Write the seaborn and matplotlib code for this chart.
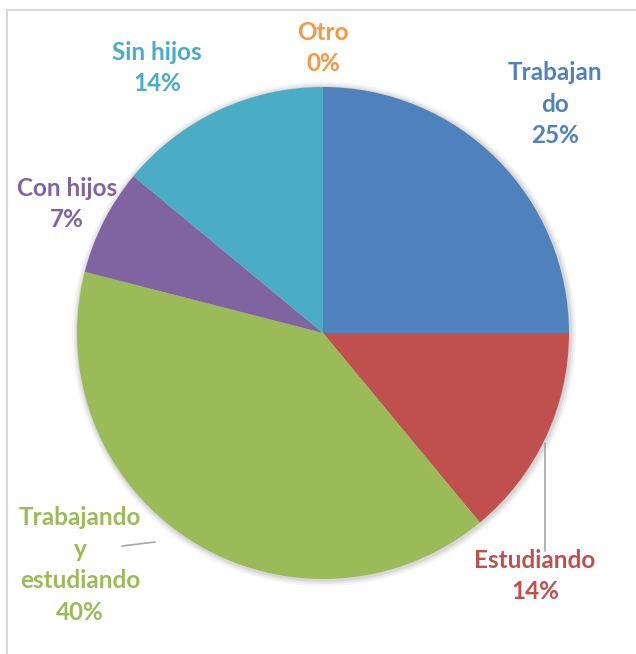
import matplotlib
matplotlib.use("Agg")
import matplotlib.pyplot as plt
import seaborn as sns
from matplotlib.patches import Circle

# slice data, clockwise from 12 o'clock
categories = ["Trabajando", "Estudiando", "Trabajando y estudiando",
              "Con hijos", "Sin hijos", "Otro"]
percentages = [25, 14, 40, 7, 14, 0]
label_texts = ["Trabajan\ndo", "Estudiando", "Trabajando\ny\nestudiando",
               "Con hijos", "Sin hijos", "Otro"]
colors = ["#4F81BD", "#C0504D", "#9BBB59", "#8064A2", "#4BACC6", "#F79646"]

sns.set_theme(style="white")
plt.rcParams["font.family"] = ["Lato", "DejaVu Sans"]

W, H = 636, 654
fig = plt.figure(figsize=(W / 100, H / 100), dpi=100)
ax = fig.add_axes([0, 0, 1, 1])

cx, cy, r = 323, 333, 246

# soft shadow behind the pie
for k, a in [(6, 0.04), (4, 0.05), (2, 0.07)]:
    ax.add_patch(Circle((cx + 1, cy + 1), r + k, color="black", alpha=a, lw=0, zorder=0))

# y axis is inverted below, so counterclockwise in data = clockwise on screen
ax.pie(percentages, colors=colors, center=(cx, cy), radius=r,
       startangle=-90, counterclock=True,
       wedgeprops=dict(linewidth=0), frame=True)
ax.set_xlim(0, W)
ax.set_ylim(H, 0)  # pixel coords, y downward
ax.set_aspect("equal")
ax.axis("off")

# label positions (label text center)
label_pos = {
    "Trabajando": (555, 104),
    "Estudiando": (535, 576),
    "Trabajando y estudiando": (80, 565),
    "Con hijos": (67, 204),
    "Sin hijos": (157, 68),
    "Otro": (323, 48),
}
for cat, txt, pct, col in zip(categories, label_texts, percentages, colors):
    x, y = label_pos[cat]
    ax.text(x, y, f"{txt}\n{pct}%", color=col, fontsize=17.5, fontweight="bold",
            ha="center", va="center", linespacing=1.45)

# leader lines
ax.plot([545, 545], [443, 551], color="#A6A6A6", lw=1.2)
ax.plot([122, 155], [546, 542], color="#A6A6A6", lw=1.2)

# chart frame (top and left visible)
ax.plot([7, W], [10, 10], color="#D9D9D9", lw=1.5)
ax.plot([7, 7], [10, H], color="#D9D9D9", lw=1.5)

fig.savefig("out.png", dpi=100)
